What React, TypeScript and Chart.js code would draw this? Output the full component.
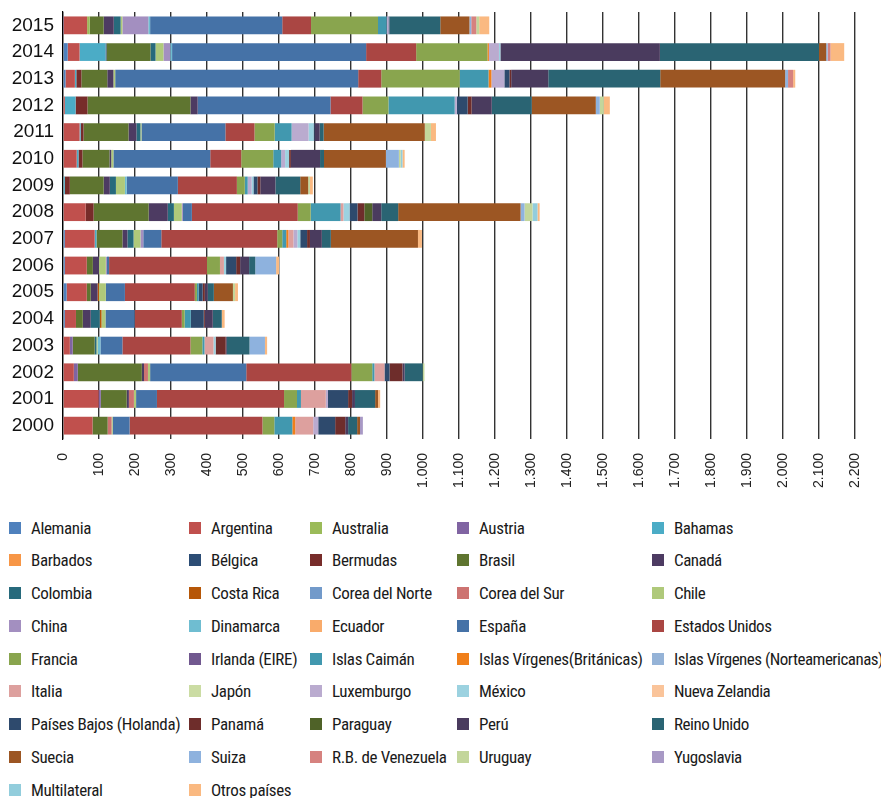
import React, { useEffect, useLayoutEffect, useRef } from 'react';
import { Chart, registerables } from 'chart.js';

Chart.register(...registerables);

// Categories, top to bottom
const years = ['2015', '2014', '2013', '2012', '2011', '2010', '2009', '2008', '2007', '2006', '2005', '2004', '2003', '2002', '2001', '2000'];

const xTickLabels = ['0', '100', '200', '300', '400', '500', '600', '700', '800', '900', '1.000', '1.100', '1.200', '1.300', '1.400', '1.500', '1.600', '1.700', '1.800', '1.900', '2.000', '2.100', '2.200'];

const countries = [
  'Alemania', 'Argentina', 'Australia', 'Austria', 'Bahamas',
  'Barbados', 'Bélgica', 'Bermudas', 'Brasil', 'Canadá',
  'Colombia', 'Costa Rica', 'Corea del Norte', 'Corea del Sur', 'Chile',
  'China', 'Dinamarca', 'Ecuador', 'España', 'Estados Unidos',
  'Francia', 'Irlanda (EIRE)', 'Islas Caimán', 'Islas Vírgenes(Británicas)', 'Islas Vírgenes (Norteamericanas)',
  'Italia', 'Japón', 'Luxemburgo', 'México', 'Nueva Zelandia',
  'Países Bajos (Holanda)', 'Panamá', 'Paraguay', 'Perú', 'Reino Unido',
  'Suecia', 'Suiza', 'R.B. de Venezuela', 'Uruguay', 'Yugoslavia',
  'Multilateral', 'Otros países',
];

const colors = [
  '#4F81BD', '#C0504D', '#9BBB59', '#8064A2', '#4BACC6',
  '#F79646', '#2C4D75', '#772C2A', '#5F7530', '#4D3B62',
  '#276A7C', '#B65708', '#729ACA', '#CD7371', '#AFC97A',
  '#A38FC0', '#6FBDD1', '#F9AB6B', '#4572A7', '#AA4643',
  '#89A54E', '#71588F', '#4198AF', '#F07F1A', '#95B3D7',
  '#DDA09E', '#CBDCA3', '#BAABCF', '#9CD2E0', '#FAC49A',
  '#2E4A6D', '#6E2D2B', '#4F6228', '#4A3B5E', '#2A6473',
  '#9C5623', '#8EB2DE', '#D6827F', '#C3D69B', '#A899C5',
  '#92CDDC', '#FAB981',
];

// Values per country, in the order of `years` (2015 ... 2000)
const alemania = [1, 13, 7, 0, 0, 0, 0, 0, 5, 5, 10, 5, 0, 0, 0, 0];
const argentina = [66, 33, 26, 5, 46, 38, 0, 63, 83, 61, 56, 31, 19, 30, 99, 82];
const australia = [7, 0, 0, 0, 0, 0, 0, 0, 0, 0, 0, 0, 0, 0, 0, 0];
const austria = [0, 0, 0, 0, 0, 0, 0, 0, 0, 0, 0, 0, 8, 11, 6, 0];
const bahamas = [0, 72, 4, 30, 3, 5, 5, 0, 5, 0, 0, 0, 0, 0, 0, 0];
const barbados = [0, 0, 0, 0, 0, 0, 0, 0, 0, 0, 0, 0, 0, 0, 0, 0];
const belgica = [0, 3, 0, 0, 0, 0, 0, 0, 0, 0, 0, 0, 0, 0, 0, 0];
const bermudas = [0, 0, 14, 33, 8, 11, 14, 22, 0, 0, 0, 0, 0, 0, 0, 0];
const brasil = [39, 122, 72, 286, 125, 75, 94, 153, 72, 17, 11, 19, 61, 178, 72, 42];
const canada = [28, 0, 17, 20, 22, 5, 17, 53, 14, 17, 19, 22, 0, 6, 6, 0];
const colombia = [19, 14, 0, 0, 11, 0, 17, 17, 17, 0, 0, 25, 5, 0, 0, 0];
const costaRica = [0, 0, 0, 0, 0, 0, 0, 0, 0, 0, 4, 5, 0, 0, 0, 0];
const coreaNorte = [0, 0, 0, 0, 0, 0, 0, 0, 0, 0, 0, 0, 0, 0, 0, 0];
const coreaSur = [0, 0, 0, 0, 0, 0, 0, 0, 0, 0, 0, 0, 0, 11, 14, 11];
const chile = [5, 22, 5, 0, 3, 6, 25, 22, 19, 19, 19, 11, 3, 6, 6, 3];
const china = [72, 19, 0, 0, 0, 0, 0, 3, 8, 3, 0, 0, 0, 0, 0, 0];
const dinamarca = [5, 5, 0, 0, 0, 0, 5, 0, 0, 0, 0, 0, 8, 0, 0, 0];
const ecuador = [0, 0, 0, 0, 0, 0, 0, 0, 0, 0, 0, 0, 0, 0, 0, 0];
const espana = [367, 539, 675, 369, 233, 269, 142, 25, 50, 6, 53, 81, 61, 267, 58, 47];
const estadosUnidos = [80, 139, 64, 89, 81, 86, 164, 294, 322, 272, 194, 131, 189, 292, 353, 369];
const francia = [186, 198, 218, 72, 56, 89, 22, 36, 14, 36, 6, 8, 33, 58, 36, 33];
const irlanda = [0, 0, 0, 0, 0, 0, 0, 0, 0, 0, 0, 0, 0, 0, 0, 0];
const islasCaiman = [24, 0, 80, 184, 47, 22, 8, 83, 11, 0, 5, 17, 6, 6, 11, 50];
const islasVirgBrit = [0, 4, 8, 0, 0, 0, 0, 0, 6, 0, 0, 0, 0, 0, 0, 8];
const islasVirgNorte = [0, 0, 0, 0, 0, 0, 0, 0, 0, 0, 0, 0, 0, 0, 0, 0];
const italia = [0, 0, 0, 0, 0, 0, 0, 8, 14, 11, 0, 0, 25, 28, 69, 50];
const japon = [0, 0, 0, 0, 0, 0, 0, 0, 0, 0, 0, 0, 0, 0, 0, 0];
const luxemburgo = [5, 28, 36, 6, 47, 11, 11, 0, 11, 0, 0, 0, 0, 0, 6, 14];
const mexico = [0, 4, 0, 0, 14, 11, 5, 17, 8, 6, 0, 0, 6, 0, 0, 0];
const nuevaZelandia = [0, 0, 0, 0, 0, 0, 0, 0, 0, 0, 0, 0, 0, 0, 0, 0];
const paisesBajos = [3, 0, 14, 30, 3, 0, 11, 22, 19, 28, 11, 36, 0, 14, 56, 47];
const panama = [0, 0, 5, 11, 0, 5, 8, 19, 8, 11, 6, 3, 28, 36, 11, 28];
const paraguay = [0, 0, 0, 0, 0, 0, 0, 22, 0, 0, 0, 0, 0, 0, 0, 0];
const peru = [0, 443, 103, 56, 14, 81, 42, 25, 33, 25, 8, 22, 3, 6, 8, 8];
const reinoUnido = [141, 442, 311, 111, 11, 11, 69, 47, 25, 17, 17, 25, 63, 50, 56, 25];
const suecia = [81, 20, 347, 178, 281, 172, 22, 340, 242, 0, 53, 0, 0, 0, 8, 8];
const suiza = [5, 4, 8, 11, 0, 36, 0, 11, 0, 58, 0, 0, 43, 0, 0, 0];
const venezuela = [14, 8, 14, 0, 0, 0, 0, 0, 0, 0, 0, 0, 0, 0, 0, 0];
const uruguay = [8, 0, 0, 11, 17, 5, 5, 22, 0, 0, 6, 0, 0, 5, 0, 0];
const yugoslavia = [0, 0, 0, 0, 0, 0, 0, 0, 0, 0, 0, 0, 0, 0, 0, 8];
const multilateral = [0, 0, 0, 0, 0, 5, 0, 14, 0, 0, 0, 0, 0, 0, 0, 0];
const otros = [28, 38, 6, 17, 14, 6, 8, 6, 11, 8, 8, 8, 6, 0, 6, 0];

const seriesValues = [
  alemania, argentina, australia, austria, bahamas,
  barbados, belgica, bermudas, brasil, canada,
  colombia, costaRica, coreaNorte, coreaSur, chile,
  china, dinamarca, ecuador, espana, estadosUnidos,
  francia, irlanda, islasCaiman, islasVirgBrit, islasVirgNorte,
  italia, japon, luxemburgo, mexico, nuevaZelandia,
  paisesBajos, panama, paraguay, peru, reinoUnido,
  suecia, suiza, venezuela, uruguay, yugoslavia,
  multilateral, otros,
];

const CANVAS_W = 865;
const CANVAS_H = 500;
const PLOT_BOTTOM = 431;

const legendColX = [1, 181, 302, 449, 644];
const legendRowY0 = 519.5;
const legendRowStep = 32.75;

const sansFont = "'Liberation Sans', Arial, sans-serif";
const narrowFont = "'Roboto Condensed', 'Liberation Sans', sans-serif";

export default function App() {
  const canvasRef = useRef<HTMLCanvasElement | null>(null);

  useLayoutEffect(() => {
    document.body.style.margin = '0';
  }, []);

  useEffect(() => {
    const canvas = canvasRef.current;
    if (!canvas) return;
    const chart = new Chart(canvas, {
      type: 'bar',
      data: {
        labels: years,
        datasets: countries.map((c, i) => ({
          label: c,
          data: seriesValues[i],
          backgroundColor: colors[i],
          borderWidth: 0,
          barPercentage: 1,
          categoryPercentage: 0.667,
        })),
      },
      options: {
        indexAxis: 'y',
        responsive: false,
        animation: false,
        devicePixelRatio: 1,
        layout: { padding: { top: 4, right: 18, left: 0, bottom: 0 } },
        plugins: {
          legend: { display: false },
          tooltip: { enabled: false },
          title: { display: false },
        },
        scales: {
          x: {
            type: 'linear',
            stacked: true,
            min: 0,
            max: 2200,
            position: 'bottom',
            ticks: {
              stepSize: 100,
              autoSkip: false,
              maxRotation: 90,
              minRotation: 90,
              padding: 14,
              color: '#222',
              font: { family: sansFont, size: 14 },
              callback: (_v: any, i: number) => xTickLabels[i],
            },
            grid: { color: '#333333', lineWidth: 1.4, drawTicks: false },
            border: { display: false },
            afterFit: (s: any) => {
              s.height = CANVAS_H - PLOT_BOTTOM;
              s.paddingLeft = 0;
              s.paddingRight = 0;
            },
          },
          y: {
            type: 'category',
            stacked: true,
            grid: { display: false, drawTicks: false },
            border: { display: true, color: '#000', width: 1.2 },
            ticks: {
              padding: 9,
              color: '#111',
              font: { family: sansFont, size: 19 },
            },
            afterFit: (s: any) => {
              s.width = 55;
              s.paddingTop = 0;
              s.paddingBottom = 0;
            },
          },
        },
      },
    } as any);
    return () => chart.destroy();
  }, []);

  return (
    <div style={{ width: 881, height: 798, padding: 8, boxSizing: 'border-box', overflow: 'hidden' }}>
      <div style={{ position: 'relative', width: 865, height: 782 }}>
        <canvas
          ref={canvasRef}
          width={CANVAS_W}
          height={CANVAS_H}
          style={{ display: 'block', width: CANVAS_W, height: CANVAS_H }}
        />
        {countries.map((c, i) => {
          const row = Math.floor(i / 5);
          const col = i % 5;
          const cy = legendRowY0 + row * legendRowStep;
          return (
            <div
              key={c}
              style={{
                position: 'absolute',
                left: legendColX[col],
                top: cy - 12,
                height: 24,
                display: 'flex',
                alignItems: 'center',
                whiteSpace: 'nowrap',
              }}
            >
              <span
                style={{
                  display: 'inline-block',
                  width: 12,
                  height: 12,
                  background: colors[i],
                  marginRight: 10,
                }}
              />
              <span
                style={{
                  fontFamily: narrowFont,
                  fontSize: 17,
                  letterSpacing: col === 4 ? '-0.5px' : '-0.35px',
                  color: '#1a1a1a',
                  lineHeight: '24px',
                }}
              >
                {c}
              </span>
            </div>
          );
        })}
      </div>
    </div>
  );
}
